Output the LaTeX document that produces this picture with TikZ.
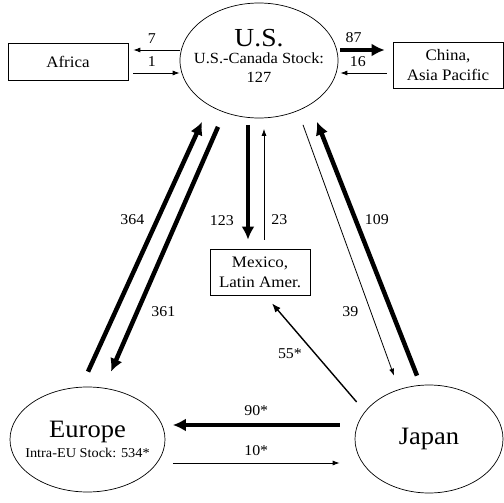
\documentclass[tikz,border=0pt]{standalone}
\usepackage{fontspec}
\setmainfont{Liberation Serif}[FakeStretch=1.06]
\usetikzlibrary{shapes.geometric, arrows.meta, calc}

\begin{document}
\begin{tikzpicture}[
    x=1pt, y=-1pt, % pixel-like grid, y grows downwards
    >=Latex,
    % Styles
    region/.style={ % Oval trade region
        ellipse,
        draw,
        line width=0.7pt,
        inner sep=0pt
    },
    partner/.style={ % Boxed partner region
        rectangle,
        draw,
        line width=0.7pt,
        align=center,
        inner sep=0pt,
        font=\fontsize{16}{20}\selectfont
    },
    flow/.style={ % Thin flow arrow
        -{Latex[length=7pt,width=5pt]},
        line width=0.8pt
    },
    midflow/.style={ % Medium flow arrow
        -{Latex[length=9pt,width=7pt]},
        line width=1.4pt
    },
    bigflow/.style={ % Heavy flow arrow
        -{Latex[length=13pt,width=13pt]},
        line width=4.5pt
    },
    amount/.style={ % Flow figures
        font=\fontsize{15}{15}\selectfont,
        inner sep=2pt
    }
]
    \useasboundingbox (0,0) rectangle (504,503);

    % Regions
    \node[region, minimum width=158pt, minimum height=115pt] (us) at (259,60.5) {};
    \node[font=\fontsize{26}{26}\selectfont, inner sep=0pt] (ustitle) at (259,38) {U.S.};
    \node[align=center, font=\fontsize{15.5}{19}\selectfont, inner sep=0pt] (usstock) at (259,68) {U.S.-Canada Stock:\\127};

    \node[region, minimum width=155pt, minimum height=105pt] (eu) at (87.5,439.5) {};
    \node[font=\fontsize{25}{25}\selectfont, inner sep=0pt] (eutitle) at (87.5,432) {Europe};
    \node[font=\fontsize{13.5}{13.5}\selectfont, inner sep=0pt] (eustock) at (87.5,453) {Intra-EU Stock: 534*};

    \node[region, minimum width=148pt, minimum height=108pt, font=\fontsize{25}{25}\selectfont] (jp) at (429,439) {Japan};

    % Partner boxes
    \node[partner, minimum width=120pt, minimum height=37pt] (africa) at (68,61.5) {Africa};
    \node[partner, minimum width=110pt, minimum height=46pt] (china) at (448,65) {China,\\Asia Pacific};
    \node[partner, minimum width=100pt, minimum height=46pt] (mex) at (260,272) {Mexico,\\Latin Amer.};

    % Flows with Africa and China
    \draw[flow] ($(us.west)+(0,-10.5)$) -- ($(africa.east)+(5,-11.5)$) node[amount, pos=0.6, above=4pt] {7};
    \draw[flow] ($(africa.east)+(5,11.5)$) -- ($(us.west)+(0,12.5)$) node[amount, pos=0.4, above=4pt] {1};
    \draw[bigflow, line width=4pt] ($(us.east)+(2,-10.5)$) -- ($(china.west)+(-8,-15)$) node[amount, pos=0.3, above=3pt] {87};
    \draw[flow] ($(china.west)+(-6,8)$) -- ($(us.east)+(2,12.5)$) node[amount, pos=0.62, above=4pt] {16};

    % Flows with Europe
    \draw[bigflow] ($(eu.north)+(0.5,-15)$) -- ($(us.south)+(-57,3.5)$) node[amount, pos=0.61, left=9pt] {364};
    \draw[bigflow] ($(us.south)+(-41,8.5)$) -- ($(eu.north)+(23.5,-15)$) node[amount, pos=0.755, right=10pt] {361};

    % Flows with Mexico
    \draw[bigflow] ($(us.south)+(-11,6.5)$) -- ($(mex.north)+(-12,-9)$) node[amount, pos=0.83, left=10pt] {123};
    \draw[flow] ($(mex.north)+(4,-9)$) -- ($(us.south)+(5,10.5)$) node[amount, pos=0.18, right=5pt] {23};

    % Flows with Japan
    \draw[flow] ($(us.south)+(44,6.5)$) -- ($(jp.north)+(-35,-9)$) node[amount, pos=0.745, left=10pt] {39};
    \draw[bigflow] ($(jp.north)+(-12,-9)$) -- ($(us.south)+(58,3.5)$) node[amount, pos=0.614, right=5pt] {109};
    \draw[midflow] ($(jp.west)+(2,-37)$) -- ($(mex.south)+(12,8)$) node[amount, pos=0.485, left=11pt] {55*};
    \draw[bigflow, line width=4pt] ($(jp.west)+(-15,-14)$) -- ($(eu.east)+(7.5,-14.5)$) node[amount, midway, above=5pt] {90*};
    \draw[flow] ($(eu.east)+(7.5,23.5)$) -- ($(jp.west)+(-15,24)$) node[amount, midway, above=5pt] {10*};
\end{tikzpicture}
\end{document}
